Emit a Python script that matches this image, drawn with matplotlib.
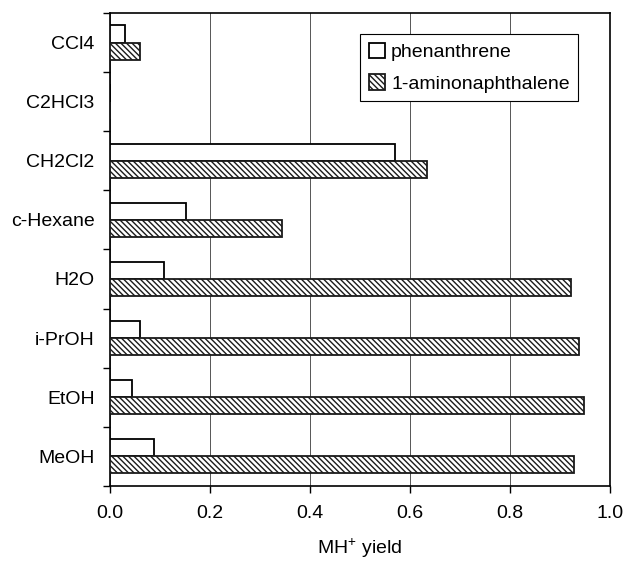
import numpy as np
import matplotlib.pyplot as plt

plt.rcParams['font.family'] = ['Liberation Sans', 'DejaVu Sans']
plt.rcParams['hatch.linewidth'] = 1.0

solvents = ["CCl4", "C2HCl3", "CH2Cl2", "c-Hexane", "H2O", "i-PrOH", "EtOH", "MeOH"]
phenanthrene = [0.03, 0.0, 0.571, 0.152, 0.109, 0.061, 0.044, 0.089]
aminonaphthalene = [0.06, 0.0, 0.635, 0.345, 0.923, 0.939, 0.949, 0.929]

fig = plt.figure(figsize=(6.26, 5.63), dpi=100)
ax = fig.add_axes([0.1757, 0.137, 0.7985, 0.840])

n = len(solvents)
pos = np.arange(n)[::-1]  # first solvent on top
h = 0.29

ax.barh(pos + h / 2, phenanthrene, height=h, color='white', edgecolor='black',
        linewidth=1.3, label='phenanthrene', zorder=3)
ax.barh(pos - h / 2, aminonaphthalene, height=h, color='white', edgecolor='#1a1a1a',
        hatch='\\\\\\\\\\\\', linewidth=1.3, label='1-aminonaphthalene', zorder=3)

ax.set_xlim(0, 1.0)
ax.set_ylim(-0.5, n - 0.5)
ax.set_xticks(np.arange(0, 1.01, 0.2))
ax.set_xticklabels([f"{v:.1f}" for v in np.arange(0, 1.01, 0.2)])
ax.set_yticks(pos)
ax.set_yticklabels(solvents)
ax.set_yticks(np.arange(-0.5, n, 1.0), minor=True)

ax.tick_params(axis='y', which='major', length=0, pad=11, labelsize=14)
ax.tick_params(axis='y', which='minor', length=5, width=1, direction='out')
ax.tick_params(axis='x', length=5, width=1, direction='out', pad=9, labelsize=14)

ax.grid(axis='x', color='#555555', linewidth=0.7, zorder=0)
for s in ax.spines.values():
    s.set_linewidth(1.2)

ax.set_xlabel("MH$^{\\mathregular{+}}$ yield", fontsize=14, labelpad=10)

leg = ax.legend(loc='upper left', bbox_to_anchor=(0.5, 0.955), fontsize=14,
                frameon=True, fancybox=False, edgecolor='black', framealpha=1,
                handlelength=0.85, handleheight=0.85, handletextpad=0.3,
                borderpad=0.45, labelspacing=0.65, borderaxespad=0)
leg.get_frame().set_linewidth(0.8)

fig.savefig("out.png", dpi=100)
